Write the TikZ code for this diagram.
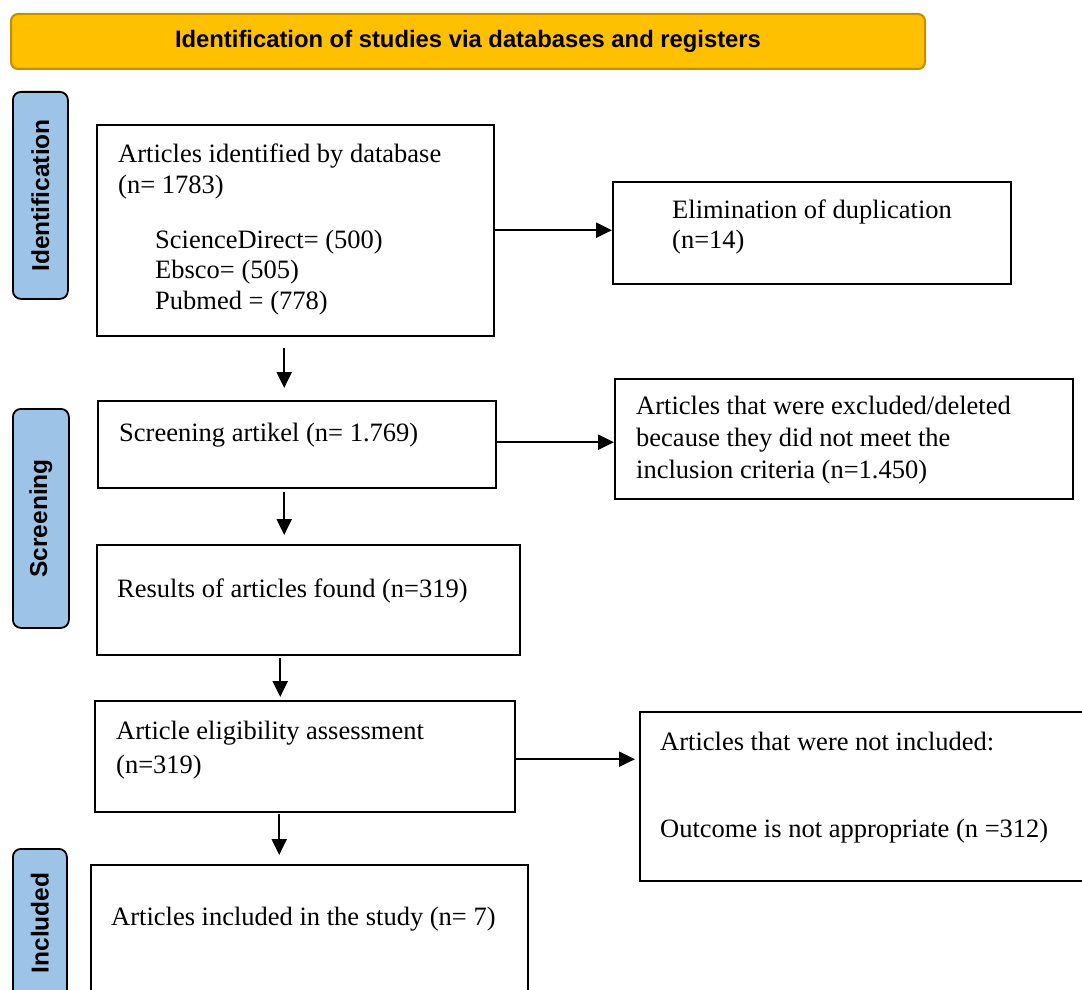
\documentclass[tikz,border=0pt]{standalone}
\usepackage{fontspec}
\setmainfont{Liberation Serif}
\newfontfamily\labfont{Liberation Sans}
\usetikzlibrary{arrows.meta}
\definecolor{titlefill}{HTML}{FFC000}
\definecolor{titleedge}{HTML}{BF9000}
\definecolor{sidefill}{HTML}{9DC3E6}
\begin{document}
\begin{tikzpicture}[x=1pt,y=-1pt,
  frame/.style={draw=black, line width=2.4pt, anchor=north west, inner sep=0pt, fill=white},
  txt/.style={anchor=base west, inner sep=0pt, font=\fontsize{26.5}{31}\selectfont},
  side/.style={draw=black, line width=1.8pt, rounded corners=8pt, fill=sidefill, anchor=north west, inner sep=0pt},
  sidetxt/.style={rotate=90, inner sep=0pt, font=\labfont\bfseries\fontsize{24.5}{28}\selectfont},
  arr/.style={line width=2.2pt, -{Triangle[length=16pt,width=15pt]}}]
\useasboundingbox (0,0) rectangle (1082,990);
\clip (0,0) rectangle (1082,990);
\fill[white] (0,0) rectangle (1082,990);

% title bar
\node[draw=titleedge, line width=2pt, fill=titlefill, rounded corners=7pt, anchor=north west,
  minimum width=914pt, minimum height=55pt, inner sep=0pt] (title) at (10,13) {};
\node[inner sep=0pt, font=\labfont\bfseries\fontsize{23.8}{28}\selectfont] (titletxt) at (title.center) {Identification of studies via databases and registers};

% side labels
\node[side, minimum width=55pt, minimum height=207pt] (sid) at (12,91) {};
\node[sidetxt] (sidt) at (sid.center) {Identification};
\node[side, minimum width=56pt, minimum height=219pt] (sscr) at (12,408) {};
\node[sidetxt] (sscrt) at (sscr.center) {Screening};
\node[side, minimum width=54pt, minimum height=160pt] (sinc) at (12,848) {};
\node[sidetxt] (sinct) at ([yshift=6pt]sinc.center) {Included};

% boxes
\node[frame, minimum width=397pt, minimum height=211pt] (b1) at (96,124) {};
\node[txt] (t1a) at (118,162) {Articles identified by database};
\node[txt] (t1b) at (118,193) {(n= 1783)};
\node[txt] (t1c) at (155,248) {ScienceDirect= (500)};
\node[txt] (t1d) at (155,278) {Ebsco= (505)};
\node[txt] (t1e) at (155,309) {Pubmed = (778)};

\node[frame, minimum width=398pt, minimum height=102pt] (b2) at (612,181) {};
\node[txt] (t2a) at (672,218) {Elimination of duplication};
\node[txt] (t2b) at (672,248) {(n=14)};

\node[frame, minimum width=398pt, minimum height=87pt] (b3) at (97,400) {};
\node[txt] (t3) at (119,441) {Screening artikel (n= 1.769)};

\node[frame, minimum width=458pt, minimum height=120pt] (b4) at (614,378) {};
\node[txt] (t4a) at (636,414) {Articles that were excluded/deleted};
\node[txt] (t4b) at (636,446) {because they did not meet the};
\node[txt] (t4c) at (636,478) {inclusion criteria (n=1.450)};

\node[frame, minimum width=423pt, minimum height=110pt] (b5) at (96,544) {};
\node[txt] (t5) at (117,597) {Results of articles found (n=319)};

\node[frame, minimum width=420pt, minimum height=111pt] (b6) at (94,700) {};
\node[txt] (t6a) at (116,739) {Article eligibility assessment};
\node[txt] (t6b) at (116,773) {(n=319)};

\node[frame, minimum width=460pt, minimum height=169pt] (b7) at (639,711) {};
\node[txt] (t7a) at (660,750) {Articles that were not included:};
\node[txt] (t7b) at (660,837) {Outcome is not appropriate (n =312)};

\node[frame, minimum width=437pt, minimum height=140pt] (b8) at (90,864) {};
\node[txt] (t8) at (111,925) {Articles included in the study (n= 7)};

% connectors
\draw[arr] ([yshift=0.5pt]b1.east) -- ([yshift=0.5pt]b1.east -| b2.west);
\draw[arr] ([yshift=2.5pt]b3.east) -- ([yshift=2.5pt]b3.east -| b4.west);
\draw[arr] ([yshift=-2.5pt]b6.east) -- ([xshift=-4pt,yshift=-2.5pt]b6.east -| b7.west);

\draw[arr] ([xshift=-11.5pt,yshift=-11pt]b1.south) -- ([xshift=-13pt,yshift=12pt]b3.north);
\draw[arr] ([xshift=-13pt,yshift=-3pt]b3.south) -- ([xshift=-24.5pt,yshift=9pt]b5.north);
\draw[arr] ([xshift=-28.5pt,yshift=-2pt]b5.south) -- ([xshift=-25pt,yshift=3pt]b6.north);
\draw[arr] ([xshift=-26pt,yshift=-1pt]b6.south) -- ([xshift=-30.5pt,yshift=9pt]b8.north);
\end{tikzpicture}
\end{document}
